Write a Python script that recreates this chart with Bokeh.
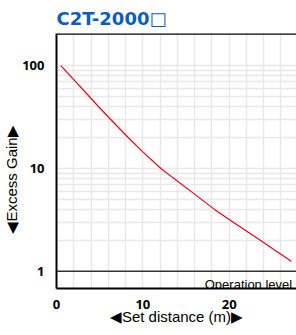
import math
from bokeh.plotting import figure
from bokeh.models import FixedTicker, Span, Label, Range1d, Title, CustomJSTickFormatter
from bokeh.embed import file_html
from bokeh.resources import INLINE

# data
distance = [0.5, 2, 3.8, 4.85, 6.2, 8.3, 10, 12.1, 13.5, 15.5, 18.3, 20.6, 23.6, 25.3, 27.2]
gain = [100, 73, 50, 40, 30.4, 20, 14.5, 10, 8.1, 6.05, 4.0, 2.95, 2.0, 1.6, 1.25]
x_ticks = [0, 10, 20]
y_ticks = [1, 10, 100]
title_text = "C2T-2000\u25a1"
x_label = "\u25c0Set distance (m)\u25b6"
y_label = "\u25c0Excess Gain\u25b6"
op_text = "Operation level"

W, H = 296, 335
BL, BT, BB, BR = 56, 31, 47, 0

p = figure(width=W, height=H, output_backend="svg", toolbar_location=None,
           y_axis_type="log", x_range=Range1d(0, 27.8), y_range=Range1d(0.681, 204.8),
           min_border_left=BL, min_border_top=BT, min_border_bottom=BB, min_border_right=BR)
p.outline_line_color = None
p.background_fill_color = "white"
p.border_fill_color = "white"

# title
p.title.text = title_text
p.title.text_font = "DejaVu Sans"
p.title.text_font_style = "bold"
p.title.text_font_size = "18px"
p.title.text_color = "#0a60b4"
p.title.align = "left"
p.title.offset = 0
p.title.standoff = 10

# grids
p.xgrid.ticker = FixedTicker(ticks=list(range(2, 28, 2)))
yg = [m * d for d in (1, 10) for m in range(2, 10)] + [10, 100]
p.ygrid.ticker = FixedTicker(ticks=sorted(yg))
for g in (p.xgrid, p.ygrid):
    g.grid_line_color = "#e8e8e8"
    g.grid_line_width = 1.5

# axes
p.xaxis.ticker = FixedTicker(ticks=x_ticks)
p.yaxis.ticker = FixedTicker(ticks=y_ticks)
p.yaxis.formatter = CustomJSTickFormatter(code="return String(Math.round(tick));")
for ax in (p.xaxis, p.yaxis):
    ax.axis_line_color = "black"
    ax.axis_line_width = 2
    ax.major_tick_line_color = None
    ax.minor_tick_line_color = None
    ax.major_label_text_font = "Open Sans"
    ax.major_label_text_font_style = "bold"
    ax.major_label_text_font_size = "13px"
    ax.major_label_text_color = "black"
p.xaxis.major_label_standoff = 5
p.yaxis.major_label_standoff = 6

p.xaxis.axis_label = x_label
p.xaxis.axis_label_text_font = "Liberation Sans"
p.xaxis.axis_label_text_font_style = "normal"
p.xaxis.axis_label_text_font_size = "15px"
p.xaxis.axis_label_text_color = "black"
p.xaxis.axis_label_standoff = -4

p.add_layout(Title(text=y_label, align="left", offset=55, text_font="Liberation Sans",
                   text_font_style="normal", text_font_size="15px", text_color="black",
                   standoff=0), "left")

# top border
p.add_layout(Span(location=204, dimension="width", line_color="black", line_width=2))
# operation level
p.add_layout(Span(location=1, dimension="width", line_color="#333333", line_width=1.5))

p.line(distance, gain, line_color="#e8001c", line_width=1.2)

p.add_layout(Label(x=27.3, y=4, x_units="data", y_units="screen", text=op_text,
                   text_font="Liberation Sans", text_font_size="13px",
                   text_color="black", text_baseline="alphabetic", text_align="right"))

open("out.html", "w").write(file_html(p, INLINE))
